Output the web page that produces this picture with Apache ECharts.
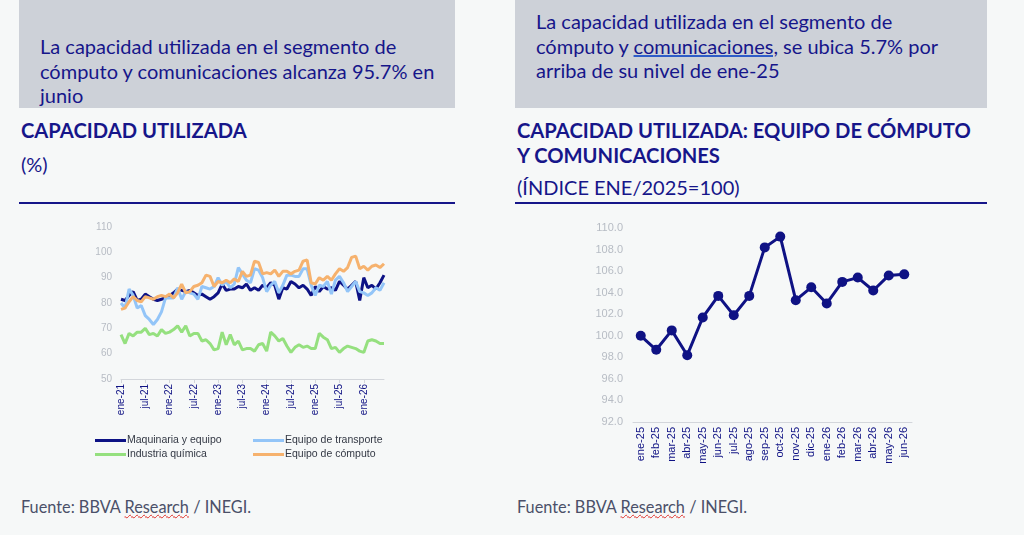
<!DOCTYPE html>
<html>
<head>
<meta charset="utf-8">
<script src="https://cdn.jsdelivr.net/npm/echarts@6/dist/echarts.min.js"></script>
<style>
	html, body { margin: 0; padding: 0; background: #f6f8f8; }
	#page { position: relative; width: 1024px; height: 535px; overflow: hidden; font-family: Lato, 'Noto Sans', sans-serif; color: #16168a; }
	#chart { position: absolute; left: 0; top: 0; width: 1024px; height: 535px; }
	.box { position: absolute; top: 0; height: 108px; background: #cdd1d8; }
	.txt { position: absolute; font-size: 20px; line-height: 24.5px; white-space: nowrap; }
	.ttl { position: absolute; font-size: 20.2px; font-weight: bold; line-height: 25px; white-space: nowrap; }
	.sub { position: absolute; font-size: 20px; white-space: nowrap; }
	.rule { position: absolute; top: 202px; height: 2px; background: #16168a; }
	.src { position: absolute; top: 497px; font-size: 16.3px; color: #4b5069; white-space: nowrap; }
	.wavy { text-decoration: underline wavy #e0302a; text-decoration-thickness: 1px; }
	.und { text-decoration: underline; text-decoration-color: #2e5cc8; text-decoration-thickness: 2px; }
</style>
</head>
<body>
<div id="page">
	<div class="box" style="left:19px;width:436px;"></div>
	<div class="box" style="left:515px;width:472px;"></div>
	<div class="txt" style="left:40px;top:34px;">La capacidad utilizada en el segmento de<br>cómputo y comunicaciones alcanza 95.7% en<br>junio</div>
	<div class="txt" style="left:536px;top:9px;">La capacidad utilizada en el segmento de<br>cómputo y <span class="und">comunicaciones,</span> se ubica 5.7% por<br>arriba de su nivel de ene-25</div>
	<div class="ttl" style="left:21px;top:118px;">CAPACIDAD UTILIZADA</div>
	<div class="sub" style="left:21px;top:152px;">(%)</div>
	<div class="ttl" style="left:517px;top:118px;">CAPACIDAD UTILIZADA: EQUIPO DE CÓMPUTO<br>Y COMUNICACIONES</div>
	<div class="sub" style="left:517px;top:175px;">(ÍNDICE ENE/2025=100)</div>
	<div class="rule" style="left:19px;width:436px;"></div>
	<div class="rule" style="left:515px;width:472px;"></div>
	<div class="src" style="left:21px;">Fuente: BBVA <span class="wavy">Research</span> / INEGI.</div>
	<div class="src" style="left:517px;">Fuente: BBVA <span class="wavy">Research</span> / INEGI.</div>
	<div id="chart"></div>
</div>
<script>
	var meses = ['ene','feb','mar','abr','may','jun','jul','ago','sep','oct','nov','dic'];
	var anios = ['21','22','23','24','25','26'];

	// panel izquierdo: ene-21 a jun-26
	var fechas = [];
	anios.forEach(function (a) {
		meses.forEach(function (m) { fechas.push(m + '-' + a); });
	});
	fechas = fechas.slice(0, 66);

	var maquinaria = [81.5,81,83,84.5,81,81.5,83.5,82.5,81.5,81,81.5,82,
		83,84,85.5,85,84.5,85,84,83,83.5,82.5,81.5,82.5,
		84,87.5,85,85.5,85.5,86.5,86,87.5,85,86,85,87,
		86,88,87,81.5,86,85.5,88.5,87.5,86,87,85.5,83,
		86.5,84.5,86.5,85.5,86,85,88.5,87,85.5,87,88.5,81,
		90,86,87,85.5,88,91];
	var transporte = [80,78,85.5,83,78,79,75,73.5,71.5,73.5,76.5,82,
		82,82,86,81.5,84.5,84,83.5,81.5,86.5,86,85.5,86.5,
		90,87,88.5,86,87.5,94,91.5,89,88,93.5,93,90,
		84.5,87,88.5,84,87,91,91,90.5,90.5,93.5,93.5,87,
		83,87,86.5,88.5,83.5,89,90.5,88,84.5,86.5,88.5,84.5,
		84,83,84,86,85,88];
	var quimica = [67.5,64,68,67,68.5,68.5,70,67.5,68,67,69.5,68,
		68.5,69.5,71,68.5,71,67,68,68,65,65.5,64,61.5,
		62,68.5,63.5,67.5,63.5,65,61.5,62,62,61,63.5,64,
		61,68.5,67,65,66,63,60.5,62.5,63.5,62.5,63,62,
		62,68,66.5,65.5,62,62.5,60.5,62,63,62.5,62,61,
		60.5,65,65.5,65,64,64];
	var computo = [77.5,78,80.5,82.5,81,80.5,82.5,82,81.5,82.5,83,82.5,
		83.5,82,84,87.5,84,84.5,86.5,87,88,91,90.5,86.5,
		88.5,88,89,88,89.5,88.5,92.5,90.5,91,96.5,96,91.5,
		92,91.5,93,90.5,92.5,92.5,91.5,92.5,93,96.5,97,88,
		87.5,90,89,90.5,89,91.5,93.5,92.5,94,98,98.5,93.5,
		94.5,93,94.5,95,94,95.5];

	// panel derecho: indice ene-25 = 100
	var fechasIndice = ['ene-25','feb-25','mar-25','abr-25','may-25','jun-25','jul-25','ago-25','sep-25',
		'oct-25','nov-25','dic-25','ene-26','feb-26','mar-26','abr-26','may-26','jun-26'];
	var indice = [100.0,98.7,100.5,98.2,101.7,103.7,101.9,103.7,108.2,109.2,103.3,104.5,103.0,105.0,105.4,104.2,105.6,105.7];

	var navy = '#0f1284';
	var gris = '#b7bcc4';

	function serie(nombre, datos, color) {
		return {
			name: nombre, type: 'line', xAxisIndex: 0, yAxisIndex: 0,
			data: datos, showSymbol: false, smooth: false,
			lineStyle: { color: color, width: 3 }, itemStyle: { color: color }
		};
	}

	var leyenda = {
		top: 430, orient: 'vertical', itemGap: 3,
		itemWidth: 31, itemHeight: 3, icon: 'rect',
		textStyle: { fontSize: 10.5, color: '#333844', padding: [0, 0, 0, -4] }
	};

	var myChart = echarts.init(document.getElementById('chart'));
	var option = {
		backgroundColor: 'transparent',
		animation: false,
		textStyle: { fontFamily: 'Liberation Sans, Arial, sans-serif' },
		grid: [
			{ left: 121, top: 227, width: 263, height: 152 },
			{ left: 633, top: 228, width: 279, height: 194 }
		],
		legend: [
			Object.assign({ left: 90, data: ['Maquinaria y equipo', 'Industria química'] }, leyenda),
			Object.assign({ left: 248, data: ['Equipo de transporte', 'Equipo de cómputo'] }, leyenda)
		],
		xAxis: [{
			gridIndex: 0, type: 'category', data: fechas, boundaryGap: false,
			axisLine: { lineStyle: { color: '#d3d6db' } },
			axisTick: { interval: 5, length: 4, lineStyle: { color: '#d3d6db' } },
			axisLabel: { interval: 5, rotate: 90, fontSize: 10, color: navy, margin: 5 }
		}, {
			gridIndex: 1, type: 'category', data: fechasIndice, boundaryGap: true,
			axisLine: { lineStyle: { color: '#d3d6db' } },
			axisTick: { length: 4, lineStyle: { color: '#d3d6db' } },
			axisLabel: { interval: 0, rotate: 90, fontSize: 11, color: navy, margin: 5 }
		}],
		yAxis: [{
			gridIndex: 0, type: 'value', min: 50, max: 110, interval: 10,
			splitLine: { show: false }, axisLine: { show: false }, axisTick: { show: false },
			axisLabel: { fontSize: 10, color: gris, margin: 9 }
		}, {
			gridIndex: 1, type: 'value', min: 92, max: 110, interval: 2,
			splitLine: { show: false }, axisLine: { show: false }, axisTick: { show: false },
			axisLabel: { fontSize: 11, color: gris, margin: 10, formatter: function (v) { return v.toFixed(1); } }
		}],
		series: [
			serie('Maquinaria y equipo', maquinaria, '#0d1285'),
			serie('Equipo de transporte', transporte, '#93c5f8'),
			serie('Industria química', quimica, '#95e07f'),
			serie('Equipo de cómputo', computo, '#f6b26e'),
			{
				name: 'Índice', type: 'line', xAxisIndex: 1, yAxisIndex: 1,
				data: indice, symbol: 'circle', symbolSize: 10,
				lineStyle: { color: navy, width: 3 }, itemStyle: { color: navy }
			}
		]
	};
	myChart.setOption(option);
</script>
</body>
</html>
